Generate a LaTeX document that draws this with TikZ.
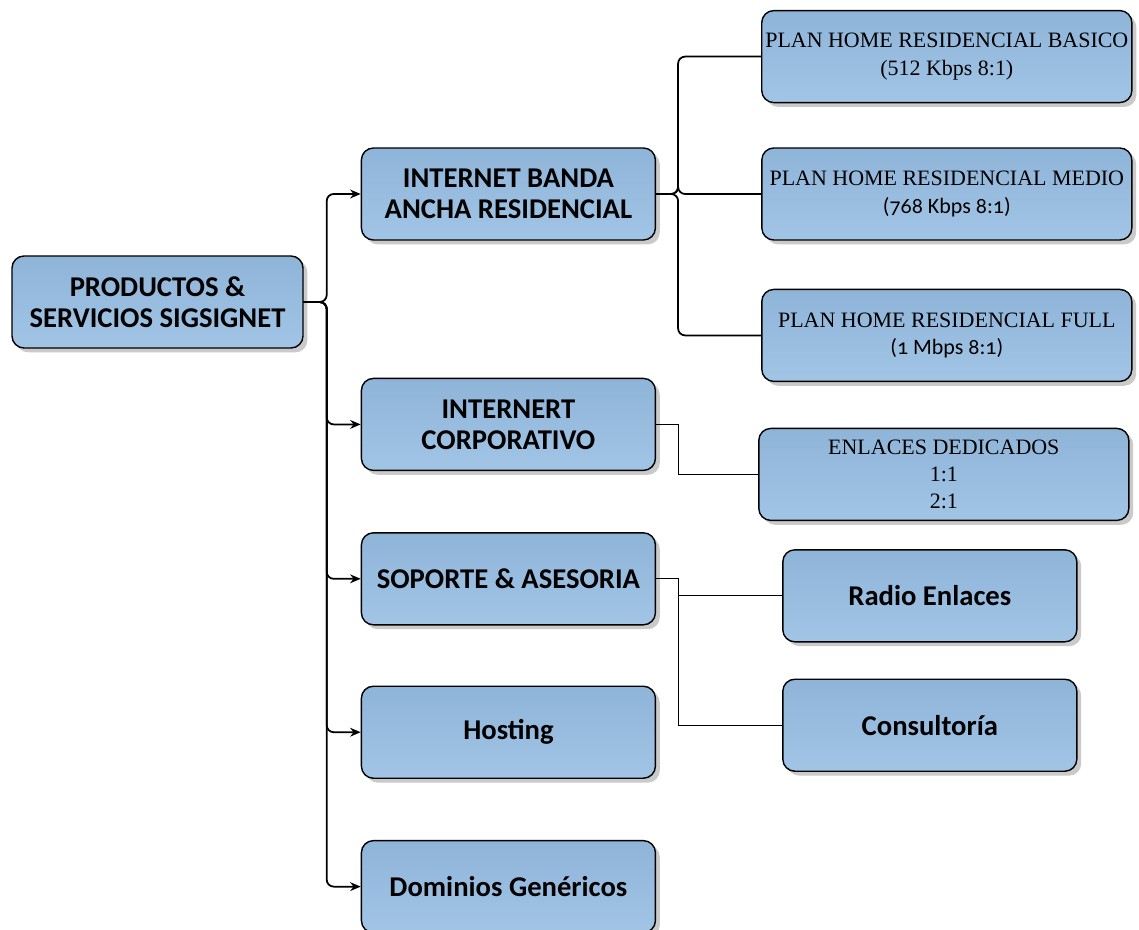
\documentclass[tikz,border=0pt]{standalone}
\usepackage{fontspec}
\setmainfont{Liberation Serif}
\newfontfamily\calfont{Carlito}
\newfontfamily\calnum{Carlito}[Numbers=OldStyle]
\usetikzlibrary{positioning,shadows,arrows.meta}

\definecolor{boxtop}{HTML}{8EB4D8}
\definecolor{boxbot}{HTML}{A2C5E6}

\tikzset{
  box/.style={draw, line width=0.8pt, rounded corners=0.24cm,
    top color=boxtop, bottom color=boxbot,
    drop shadow={shadow xshift=2.5pt, shadow yshift=-2.5pt, fill=black!35, opacity=0.6},
    align=center, minimum width=5.88cm, minimum height=1.84cm, inner sep=2pt,
    font=\calfont\bfseries\fontsize{16.3}{17.6}\selectfont},
  plan/.style={box, minimum width=7.4cm, font=\fontsize{12.5}{15.5}\selectfont},
  feed/.style={line width=1pt, rounded corners=0.14cm, -{Stealth[length=6pt,width=5pt]}},
  link/.style={line width=1pt, rounded corners=0.14cm},
  thinlink/.style={line width=0.6pt}
}

\begin{document}
\begin{tikzpicture}
  \useasboundingbox (0,0) rectangle (22.78,-18.6);

  % main branch
  \node[box, minimum width=5.82cm] (root) at (3.15,-6.04) {PRODUCTOS \&\\SERVICIOS SIGSIGNET};
  \node[box, right=1.14cm of root, yshift=2.16cm] (ib) {INTERNET BANDA\\ANCHA RESIDENCIAL};
  \node[box, below=2.74cm of ib] (ic) {INTERNERT\\CORPORATIVO};
  \node[box, below=1.22cm of ic] (sa) {SOPORTE \& ASESORIA};
  \node[box, below=1.2cm of sa] (ho) {Hosting};
  \node[box, below=1.22cm of ho] (dg) {Dominios Genéricos};

  % plans
  \node[plan, right=2.1cm of ib] (pm) {PLAN HOME RESIDENCIAL MEDIO\\{\calnum(768 Kbps 8:1)}};
  \node[plan, above=0.88cm of pm] (pb) {PLAN HOME RESIDENCIAL BASICO\\(512 Kbps 8:1)};
  \node[plan, below=0.96cm of pm] (pf) {PLAN HOME RESIDENCIAL FULL\\{\calnum(1 Mbps 8:1)}};
  \node[plan, right=2.04cm of ic, yshift=-1.0cm] (ed) {ENLACES DEDICADOS\\1:1\\2:1};

  % support
  \node[box, right=2.52cm of sa, yshift=-0.34cm] (re) {Radio Enlaces};
  \node[box, below=0.72cm of re] (co) {Consultoría};

  \foreach \n in {ib,ic,sa,ho,dg}
    \draw[feed] (root.east) -- ++(0.46,0) |- (\n.west);
  \foreach \n in {pb,pm,pf}
    \draw[link] (ib.east) -- ++(0.44,0) |- (\n.west);
  \draw[thinlink] (ic.east) -- ++(0.44,0) |- (ed.west);
  \foreach \n in {re,co}
    \draw[thinlink] (sa.east) -- ++(0.44,0) |- (\n.west);
\end{tikzpicture}
\end{document}
